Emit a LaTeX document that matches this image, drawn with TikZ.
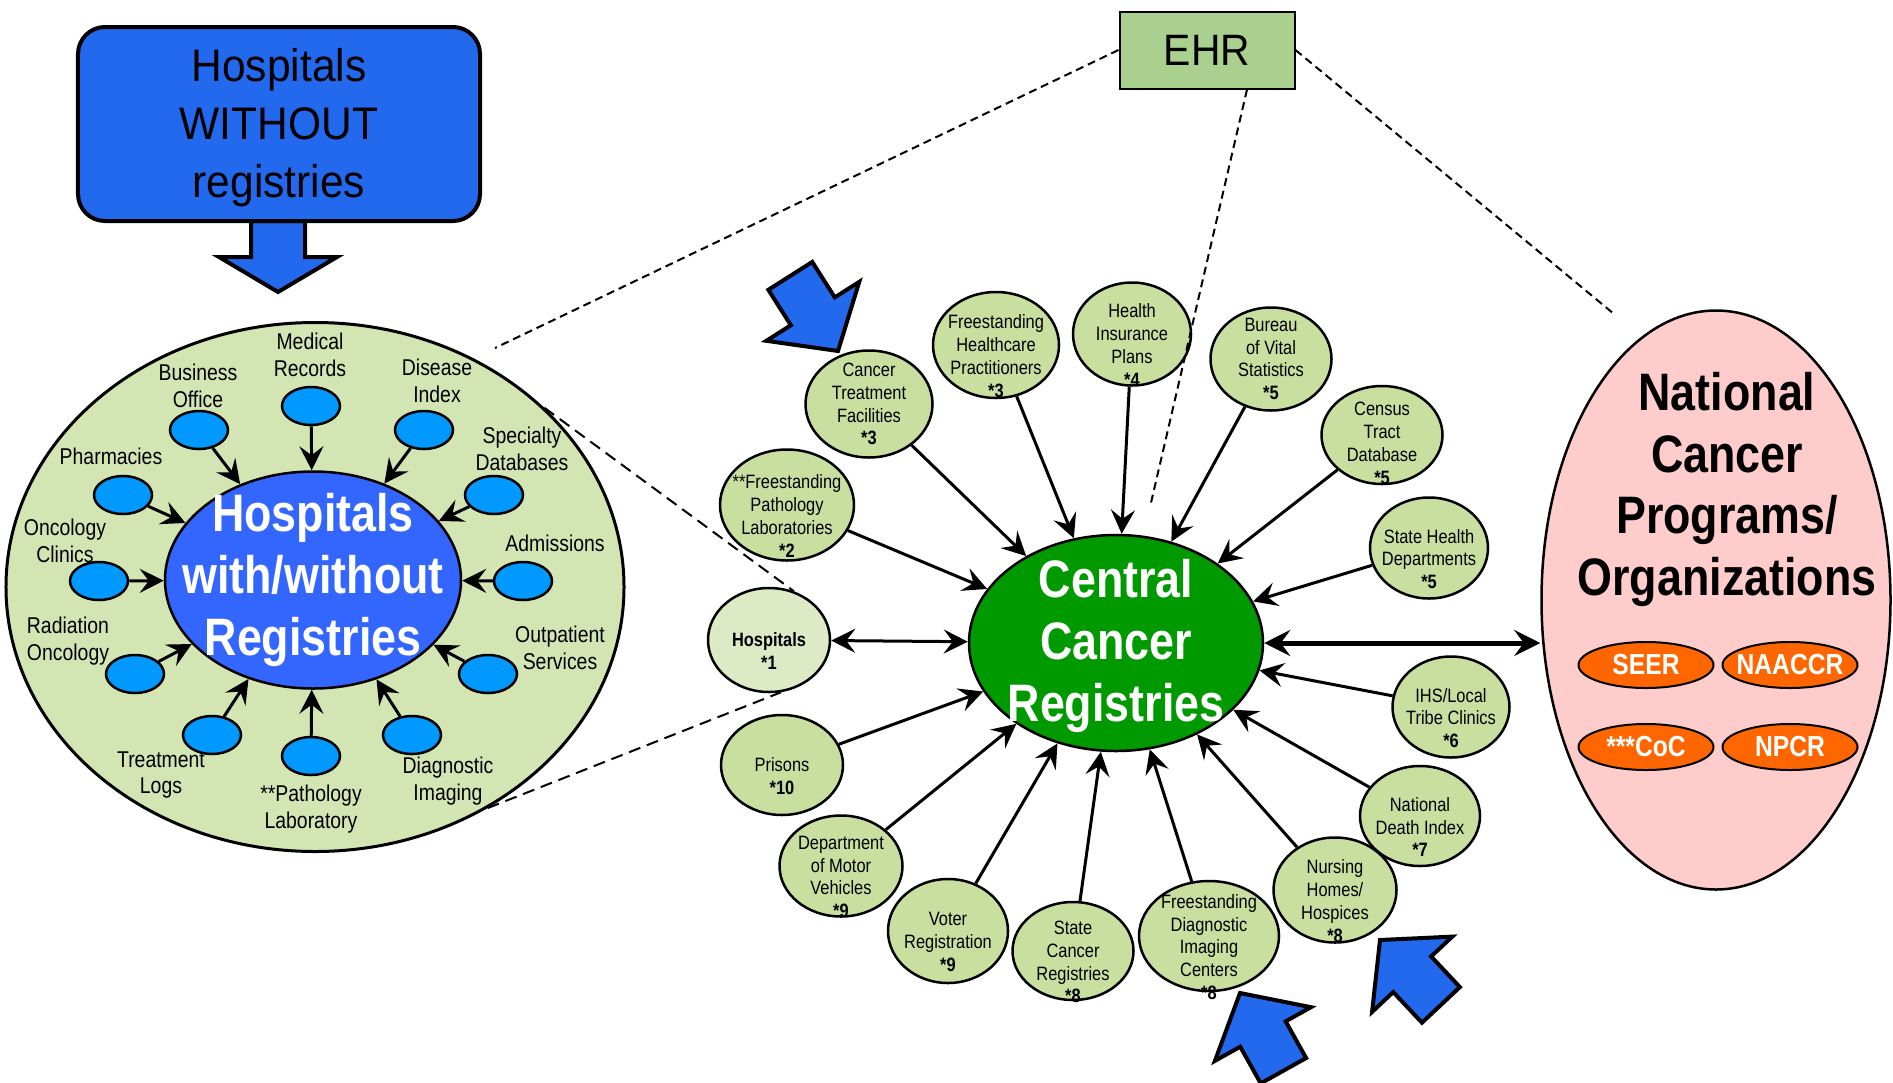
\documentclass[tikz,border=0pt]{standalone}
\usepackage{fontspec}
\newfontfamily\narrowfont{Liberation Sans}[FakeStretch=0.85]
\newfontfamily\boxfont{Liberation Sans}[FakeStretch=0.93]
\usetikzlibrary{shapes.geometric,arrows.meta}

\definecolor{pointerblue}{HTML}{2369EE}
\definecolor{hubblue}{HTML}{3366FF}
\definecolor{deptblue}{HTML}{0099FF}
\definecolor{hospgreen}{HTML}{D4E5B4}
\definecolor{satgreen}{HTML}{C9DF9F}
\definecolor{satlight}{HTML}{DCEAC5}
\definecolor{ehrgreen}{HTML}{A9D08E}
\definecolor{ccrgreen}{HTML}{009900}
\definecolor{natpink}{HTML}{FFCCCC}
\definecolor{orgorange}{HTML}{FF6600}

% block arrow, tip at #1,#2, turned by #3
\newcommand\pointarrow[3]{%
  \draw[pointer,shift={(#1,#2)},rotate=#3] (0,0) -- (-47,55) -- (-47,26) -- (-89,26)
    -- (-89,-26) -- (-47,-26) -- (-47,-55) -- cycle;}

\begin{document}
\begin{tikzpicture}[x=0.2mm,y=-0.2mm,
 pointer/.style={draw,line width=0.8mm,fill=pointerblue,line join=miter},
 nohosp/.style={rectangle,rounded corners=5.4mm,draw,line width=0.8mm,fill=pointerblue,
  minimum width=80.4mm,minimum height=38.8mm,inner sep=0pt},
 boxtxt/.style={align=center,font=\boxfont\fontsize{26pt}{33pt}\selectfont},
 hosp/.style={ellipse,draw,line width=0.6mm,fill=hospgreen,inner sep=0pt,
  minimum width=123.6mm,minimum height=105.8mm},
 hub/.style={ellipse,draw,line width=0.5mm,inner sep=0pt},
 hubtxt/.style={font=\narrowfont\bfseries\fontsize{30pt}{35.2pt}\selectfont,
  text=white,align=center},
 dept/.style={ellipse,draw,line width=0.5mm,fill=deptblue,inner sep=0pt,
  minimum width=11.6mm,minimum height=7.6mm},
 depttxt/.style={font=\narrowfont\fontsize{13pt}{15pt}\selectfont,align=center},
 sat/.style={ellipse,draw,line width=0.5mm,fill=satgreen,inner sep=0pt,
  minimum width=24.2mm,minimum height=20.4mm},
 sattxt/.style={font=\narrowfont\fontsize{11pt}{13pt}\selectfont,align=center},
 lowtxt/.style={sattxt,yshift=-2.2mm},
 ehrbox/.style={rectangle,draw,line width=0.4mm,fill=ehrgreen,
  minimum width=35mm,minimum height=15.4mm,font=\boxfont\fontsize{25pt}{30pt}\selectfont},
 natl/.style={ellipse,draw,line width=0.5mm,fill=natpink,inner sep=0pt,
  minimum width=69.8mm,minimum height=115.8mm},
 nattxt/.style={font=\narrowfont\bfseries\fontsize{30pt}{35.2pt}\selectfont,align=center},
 org/.style={ellipse,draw,line width=0.4mm,fill=orgorange,inner sep=0pt,
  minimum width=27mm,minimum height=9.2mm},
 orgtxt/.style={font=\narrowfont\bfseries\fontsize{16.5pt}{19pt}\selectfont,text=white},
 feed/.style={line width=0.6mm,-{Stealth[length=4.8mm,width=4.8mm,inset=1.8mm]}},
 both/.style={line width=0.6mm,{Stealth[length=4.8mm,width=4.8mm,inset=1.8mm]}-{Stealth[length=4.8mm,width=4.8mm,inset=1.8mm]}},
 natlink/.style={line width=1mm,{Stealth[length=5.2mm,width=5.2mm,inset=1.9mm]}-{Stealth[length=5.2mm,width=5.2mm,inset=1.9mm]}},
 ehrlink/.style={line width=0.4mm,dash pattern=on 1.6mm off 1mm},
 zoomlink/.style={line width=0.4mm,dash pattern=on 2.4mm off 1.4mm}]

\useasboundingbox (0,0) rectangle (1893,1082);

% hospitals without registries
\draw[pointer] (251,221) -- (251,257) -- (219,257) -- (278,292) -- (337,257) -- (305,257) -- (305,221) -- cycle;
\node[nohosp,label={[boxtxt,yshift=-0.8mm]center:Hospitals\\WITHOUT\\registries}] (nohosp) at (279,124) {};

% hospital departments
\node[hosp] (bigL) at (315,587) {};
\node[hub,fill=hubblue,minimum width=59.2mm,minimum height=43.4mm,
 label={[hubtxt]center:Hospitals\\with/without\\Registries}] (inner) at (313,580) {};

\node[dept] (medrec) at (311,406) {};
\node[dept] (busoff) at (199,430) {};
\node[dept] (disidx) at (424,430) {};
\node[dept] (pharm) at (123,495) {};
\node[dept] (specdb) at (494,495) {};
\node[dept] (oncclin) at (99,581) {};
\node[dept] (admis) at (523,581) {};
\node[dept] (radonc) at (135,674) {};
\node[dept] (outpat) at (488,674) {};
\node[dept] (treatlog) at (212,735) {};
\node[dept] (pathlab) at (311,756) {};
\node[dept] (diagimg) at (412,735) {};

\node[depttxt] (medrecL) at (310,355) {Medical\\Records};
\node[depttxt] (busoffL) at (198,386) {Business\\Office};
\node[depttxt] (disidxL) at (437,381) {Disease\\Index};
\node[depttxt] (pharmL) at (111,456) {Pharmacies};
\node[depttxt] (specdbL) at (522,449) {Specialty\\Databases};
\node[depttxt] (oncclinL) at (65,541) {Oncology\\Clinics};
\node[depttxt] (admisL) at (555,543) {Admissions};
\node[depttxt] (radoncL) at (68,641) {Radiation\\Oncology};
\node[depttxt] (outpatL) at (560,648) {Outpatient\\Services};
\node[depttxt] (treatlogL) at (161,775) {Treatment\\Logs};
\node[depttxt] (pathlabL) at (311,809) {**Pathology\\Laboratory};
\node[depttxt] (diagimgL) at (448,781) {Diagnostic\\Imaging};

\foreach \d in {medrec,busoff,disidx,pharm,specdb,oncclin,admis,radonc,outpat,treatlog,pathlab,diagimg}
  \draw[feed] (\d) -- (inner);

% EHR
\node[ehrbox] (ehr) at (1207,50) {EHR};

% central cancer registries and sources
\node[hub,fill=ccrgreen,minimum width=58.8mm,minimum height=43.2mm,
 label={[hubtxt,yshift=-0.6mm]center:Central\\Cancer\\Registries}] (ccr) at (1116,643) {};

\node[sat,minimum width=25.4mm,minimum height=21.4mm,
 label={[sattxt]center:Cancer\\Treatment\\Facilities\\\textbf{*3}}] (ctf) at (869,404) {};
\node[sat,minimum width=25.2mm,minimum height=21.2mm,
 label={[lowtxt]center:Freestanding\\Healthcare\\Practitioners\\\textbf{*3}}] (fhp) at (996,345) {};
\node[sat,minimum width=23.6mm,minimum height=20.6mm,
 label={[lowtxt]center:Health\\Insurance\\Plans\\\textbf{*4}}] (hip) at (1132,334) {};
\node[sat,minimum height=20.6mm,
 label={[sattxt]center:Bureau\\of Vital\\Statistics\\\textbf{*5}}] (bvs) at (1271,359) {};
\node[sat,minimum height=19.6mm,
 label={[sattxt,yshift=-1.7mm]center:Census\\Tract\\Database\\\textbf{*5}}] (ctd) at (1382,435) {};
\node[sat,minimum width=23.6mm,minimum height=20.2mm,
 label={[lowtxt]center:State Health\\Departments\\\textbf{*5}}] (shd) at (1429,548) {};
\node[sat,minimum width=23.4mm,minimum height=20.2mm,
 label={[lowtxt]center:IHS/Local\\Tribe Clinics\\\textbf{*6}}] (ihs) at (1451,707) {};
\node[sat,minimum width=24mm,minimum height=20mm,
 label={[lowtxt]center:National\\Death Index\\\textbf{*7}}] (ndi) at (1420,816) {};
\node[sat,minimum width=24.6mm,minimum height=21mm,
 label={[lowtxt]center:Nursing\\Homes/\\Hospices\\\textbf{*8}}] (nhh) at (1335,890) {};
\node[sat,minimum width=28mm,minimum height=22mm,
 label={[lowtxt]center:Freestanding\\Diagnostic\\Imaging\\Centers\\\textbf{*8}}] (fdic) at (1209,936) {};
\node[sat,minimum height=19.6mm,
 label={[lowtxt]center:State\\Cancer\\Registries\\\textbf{*8}}] (scr) at (1073,951) {};
\node[sat,minimum width=24mm,minimum height=20.8mm,
 label={[lowtxt]center:Voter\\Registration\\\textbf{*9}}] (vr) at (948,931) {};
\node[sat,minimum width=24.6mm,minimum height=20.2mm,
 label={[lowtxt]center:Department\\of Motor\\Vehicles\\\textbf{*9}}] (dmv) at (841,866) {};
\node[sat,minimum width=24.4mm,minimum height=20mm,
 label={[lowtxt]center:Prisons\\\textbf{*10}}] (pris) at (782,765) {};
\node[sat,fill=satlight,minimum width=24.4mm,minimum height=20.8mm,
 label={[lowtxt]center:\textbf{Hospitals}\\\textbf{*1}}] (hosp1) at (769,640) {};
\node[sat,minimum width=26.8mm,minimum height=22.2mm,
 label={[lowtxt]center:**Freestanding\\Pathology\\Laboratories\\\textbf{*2}}] (fpl) at (787,505) {};

\foreach \s in {ctf,fhp,hip,bvs,ctd,shd,ihs,ndi,nhh,fdic,scr,vr,dmv,pris,fpl}
  \draw[feed] (\s) -- (ccr);
\draw[both] (hosp1) -- (ccr);

% national programs
\node[natl,label={[nattxt,xshift=2.2mm,yshift=22.1mm]center:National\\Cancer\\Programs/\\Organizations}] (natl) at (1716,600) {};
\node[org,label={[orgtxt]center:SEER}] (seer) at (1646,665) {};
\node[org,label={[orgtxt]center:NAACCR}] (naaccr) at (1790,665) {};
\node[org,label={[orgtxt]center:***CoC}] (coc) at (1646,747) {};
\node[org,label={[orgtxt]center:NPCR}] (npcr) at (1790,747) {};
\draw[natlink] (ccr.east) -- (ccr.east -| natl.west);

% dashed links
\coordinate (ehrL) at (495,348);
\coordinate (ehrM) at (1150,507);
\coordinate (ehrR) at (1614,314);
\draw[ehrlink] (ehr.west) -- (ehrL);
\draw[ehrlink] ([xshift=8mm]ehr.south) -- (ehrM);
\draw[ehrlink] (ehr.east) -- (ehrR);
\draw[zoomlink] (bigL.38.5) -- (hosp1.63);
\draw[zoomlink] (bigL.-52) -- (hosp1.-77);

% pointers
\pointarrow{838}{351}{-57.6}
\pointarrow{1240}{993}{119.2}
\pointarrow{1380}{940}{133.2}
\end{tikzpicture}
\end{document}
